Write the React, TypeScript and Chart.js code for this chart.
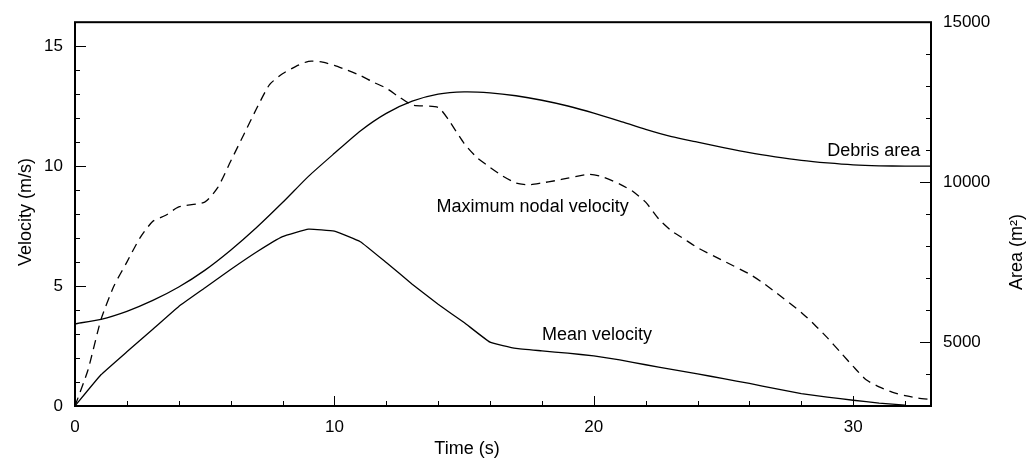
import React, { useEffect, useRef } from "react";
import { Chart, registerables } from "chart.js";

Chart.register(...registerables);

// ---- Data ----
const areaTime = [0, 1, 2, 3, 4, 5, 6, 7, 8, 9, 10, 11, 12, 13, 14, 15, 16, 17, 18, 19, 20, 21, 22, 23, 24, 25, 26, 27, 28, 29, 30, 31, 32, 33];
const areaValues = [5570, 5710, 5960, 6300, 6720, 7240, 7870, 8580, 9360, 10180, 10900, 11600, 12150, 12530, 12750, 12820, 12790, 12700, 12560, 12380, 12160, 11910, 11650, 11420, 11250, 11080, 10920, 10790, 10680, 10600, 10540, 10510, 10500, 10500];

const meanTime = [0, 1, 2, 3, 4, 5, 6, 7, 8, 9, 10, 11, 12, 13, 14, 15, 16, 17, 18, 19, 20, 21, 22, 23, 24, 25, 26, 27, 28, 29, 30, 31, 32];
const meanValues = [0, 1.3, 2.26, 3.2, 4.15, 4.92, 5.69, 6.42, 7.06, 7.37, 7.29, 6.85, 5.98, 5.08, 4.24, 3.48, 2.66, 2.4, 2.3, 2.2, 2.09, 1.92, 1.72, 1.53, 1.34, 1.14, 0.94, 0.72, 0.52, 0.37, 0.24, 0.12, 0.04];

const maxTime = [0, 0.5, 1, 1.5, 2, 2.5, 3, 3.5, 4, 5, 5.5, 6, 6.5, 7, 7.5, 8, 8.5, 9, 9.5, 10, 10.5, 11, 11.5, 12, 12.5, 13, 14, 14.4, 15, 15.5, 16, 16.5, 17, 17.5, 18, 18.5, 19, 19.8, 20.3, 21, 21.5, 22, 22.5, 23, 23.5, 24, 25, 26, 26.5, 27, 28, 28.5, 29, 29.5, 30, 30.5, 31, 31.5, 32, 32.5, 33];
const maxValues = [0, 1.5, 3.6, 5.0, 6.0, 7.0, 7.7, 7.95, 8.3, 8.5, 9.1, 10.2, 11.3, 12.4, 13.4, 13.85, 14.15, 14.37, 14.35, 14.2, 14.0, 13.78, 13.5, 13.25, 12.88, 12.55, 12.45, 11.93, 10.95, 10.35, 9.95, 9.58, 9.3, 9.22, 9.3, 9.39, 9.5, 9.66, 9.57, 9.25, 8.95, 8.5, 7.8, 7.3, 6.95, 6.6, 6.05, 5.5, 5.15, 4.75, 3.9, 3.4, 2.85, 2.25, 1.65, 1.09, 0.8, 0.58, 0.43, 0.33, 0.27];

const noteTexts = ["Debris area", "Maximum nodal velocity", "Mean velocity"];
const noteX = [29.0, 13.94, 18.0];
const noteY = [10.64, 8.29, 2.94];

const xTitle = "Time (s)";
const yTitle = "Velocity (m/s)";
const y1Title = "Area (m²)";

const FONT = '"Liberation Sans", Arial, Helvetica, sans-serif';

const toPoints = (xs: number[], ys: number[]) => xs.map((x, i) => ({ x, y: ys[i] }));

const decorPlugin = {
  id: "decor",
  afterDatasetsDraw(chart: any) {
    const { ctx, chartArea: a, scales } = chart;
    const xs = scales.x;
    const ys = scales.y;
    const ys1 = scales.y1;
    ctx.save();
    ctx.strokeStyle = "#000";
    ctx.fillStyle = "#000";
    ctx.lineWidth = 1;
    const seg = (x1: number, y1: number, x2: number, y2: number) => {
      ctx.beginPath();
      ctx.moveTo(x1, y1);
      ctx.lineTo(x2, y2);
      ctx.stroke();
    };
    xs.ticks.forEach((t: any) => {
      const px = Math.round(xs.getPixelForValue(t.value)) + 0.5;
      const len = t.value % 10 === 0 ? 10 : 5;
      seg(px, a.bottom, px, a.bottom - len);
    });
    ys.ticks.forEach((t: any) => {
      const py = Math.round(ys.getPixelForValue(t.value)) + 0.5;
      const len = t.value % 5 === 0 ? 11 : 5;
      seg(a.left, py, a.left + len, py);
    });
    ys1.ticks.forEach((t: any) => {
      const py = Math.round(ys1.getPixelForValue(t.value)) + 0.5;
      const len = t.value % 5000 === 0 ? 11 : 5;
      seg(a.right, py, a.right - len, py);
    });
    // frame
    ctx.lineWidth = 2;
    ctx.strokeRect(a.left, a.top, a.right - a.left, a.bottom - a.top);

    // annotations
    ctx.font = `18px ${FONT}`;
    ctx.textAlign = "left";
    ctx.textBaseline = "middle";
    noteTexts.forEach((txt, i) => {
      ctx.fillText(txt, xs.getPixelForValue(noteX[i]), ys.getPixelForValue(noteY[i]));
    });

    // axis titles
    ctx.textAlign = "center";
    ctx.fillText(xTitle, 467, 449);
    ctx.save();
    ctx.translate(26, 212);
    ctx.rotate(-Math.PI / 2);
    ctx.fillText(yTitle, 0, 0);
    ctx.restore();
    ctx.save();
    ctx.translate(1017, 252);
    ctx.rotate(-Math.PI / 2);
    ctx.fillText(y1Title, 0, 0);
    ctx.restore();
    ctx.restore();
  },
};

export default function App() {
  const canvasRef = useRef<HTMLCanvasElement | null>(null);

  useEffect(() => {
    document.body.style.margin = "0";
    const canvas = canvasRef.current;
    if (!canvas) return;
    const tickFont = { family: FONT, size: 17 };
    const chart = new Chart(canvas, {
      type: "line",
      data: {
        datasets: [
          {
            label: "Debris area",
            data: toPoints(areaTime, areaValues),
            yAxisID: "y1",
            borderColor: "#000",
            borderWidth: 1.3,
            pointRadius: 0,
            tension: 0.2,
            fill: false,
          },
          {
            label: "Maximum nodal velocity",
            data: toPoints(maxTime, maxValues),
            yAxisID: "y",
            borderColor: "#000",
            borderWidth: 1.3,
            borderDash: [9, 6],
            pointRadius: 0,
            tension: 0.2,
            fill: false,
          },
          {
            label: "Mean velocity",
            data: toPoints(meanTime, meanValues),
            yAxisID: "y",
            borderColor: "#000",
            borderWidth: 1.3,
            pointRadius: 0,
            tension: 0.1,
            fill: false,
          },
        ],
      },
      options: {
        responsive: false,
        animation: false,
        devicePixelRatio: 1,
        layout: { padding: { top: 18, left: 0, right: 0, bottom: 0 } },
        plugins: { legend: { display: false }, tooltip: { enabled: false } },
        scales: {
          x: {
            type: "linear",
            min: 0,
            max: 33,
            grid: { display: false, drawTicks: false },
            border: { display: false },
            ticks: {
              stepSize: 2,
              includeBounds: false,
              autoSkip: false,
              maxRotation: 0,
              padding: 11,
              color: "#000",
              font: tickFont,
              callback: (v: any) => (Number(v) % 10 === 0 ? String(v) : ""),
            },
            afterFit: (s: any) => {
              s.height = 52;
            },
          },
          y: {
            type: "linear",
            position: "left",
            min: 0,
            max: 16,
            grid: { display: false, drawTicks: false },
            border: { display: false },
            ticks: {
              stepSize: 1,
              includeBounds: false,
              autoSkip: false,
              padding: 12,
              color: "#000",
              font: tickFont,
              callback: (v: any) => (Number(v) % 5 === 0 ? String(v) : ""),
            },
            afterFit: (s: any) => {
              s.width = 75;
            },
          },
          y1: {
            type: "linear",
            position: "right",
            min: 3000,
            max: 15000,
            grid: { display: false, drawTicks: false },
            border: { display: false },
            ticks: {
              stepSize: 1000,
              includeBounds: false,
              autoSkip: false,
              padding: 12,
              color: "#000",
              font: tickFont,
              callback: (v: any) => (Number(v) % 5000 === 0 ? String(v) : ""),
            },
            afterFit: (s: any) => {
              s.width = 97;
            },
          },
        },
      },
      plugins: [decorPlugin],
    } as any);
    return () => chart.destroy();
  }, []);

  return (
    <div style={{ width: 1028, height: 458, position: "relative", background: "#fff" }}>
      <canvas ref={canvasRef} width={1028} height={458} style={{ display: "block" }} />
    </div>
  );
}
